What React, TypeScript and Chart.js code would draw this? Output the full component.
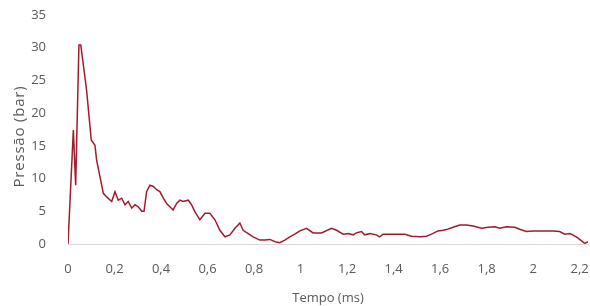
import React, { useEffect, useRef } from "react";
import { Chart, registerables } from "chart.js";

Chart.register(...registerables);

const tempo: number[] = [
  0, 0.023, 0.033, 0.047, 0.055, 0.08, 0.1, 0.116, 0.123, 0.152, 0.166, 0.188, 0.202, 0.216, 0.231, 0.245,
  0.259, 0.274, 0.288, 0.302, 0.317, 0.327, 0.338, 0.352, 0.367, 0.381, 0.395, 0.41, 0.424, 0.438, 0.452,
  0.467, 0.481, 0.495, 0.517, 0.531, 0.546, 0.567, 0.589, 0.61, 0.632, 0.653, 0.675, 0.696, 0.718, 0.739,
  0.753, 0.775, 0.796, 0.825, 0.847, 0.868, 0.89, 0.911, 0.932, 0.954, 0.975, 0.997, 1.026, 1.054, 1.09,
  1.133, 1.155, 1.183, 1.205, 1.226, 1.24, 1.262, 1.276, 1.298, 1.326, 1.34, 1.355, 1.405, 1.448, 1.477,
  1.513, 1.541, 1.563, 1.591, 1.613, 1.627, 1.656, 1.685, 1.713, 1.742, 1.778, 1.806, 1.835, 1.857, 1.885,
  1.921, 1.942, 1.971, 2.0, 2.043, 2.086, 2.114, 2.136, 2.157, 2.171, 2.193, 2.222, 2.236,
];

const pressao: number[] = [
  0, 17.4, 9.0, 30.4, 30.4, 23.5, 15.9, 15.1, 12.8, 7.75, 7.2, 6.5, 8.0, 6.7, 7.0, 6.0,
  6.5, 5.5, 6.0, 5.7, 5.0, 5.0, 8.0, 9.0, 8.8, 8.3, 8.0, 7.0, 6.2, 5.7, 5.2,
  6.2, 6.7, 6.5, 6.7, 6.0, 4.9, 3.7, 4.7, 4.7, 3.7, 2.1, 1.1, 1.4, 2.4, 3.2,
  2.1, 1.6, 1.1, 0.6, 0.6, 0.7, 0.35, 0.2, 0.6, 1.1, 1.5, 2.0, 2.4, 1.7, 1.7,
  2.4, 2.1, 1.5, 1.6, 1.4, 1.7, 1.9, 1.4, 1.6, 1.4, 1.1, 1.5, 1.5, 1.5, 1.2,
  1.1, 1.2, 1.5, 2.0, 2.1, 2.2, 2.55, 2.9, 2.9, 2.75, 2.4, 2.55, 2.65, 2.4, 2.65,
  2.55, 2.25, 1.9, 2.0, 2.0, 2.0, 1.9, 1.5, 1.6, 1.4, 0.9, 0.1, 0.35,
];

const xTitle = "Tempo (ms)";
const yTitle = "Pressão (bar)";
const xMin = 0;
const xMax = 2.236;
const xStep = 0.2;
const yMin = 0;
const yMax = 35;
const yStep = 5;

const fmt = (v: number) => String(Number(v.toFixed(1))).replace(".", ",");

const textColor = "#595959";
const fontFamily = "'Open Sans', sans-serif";

const yTitlePlugin = {
  id: "yTitlePlugin",
  afterDraw(chart: any) {
    const { ctx, chartArea } = chart;
    ctx.save();
    ctx.translate(20, (chartArea.top + chartArea.bottom) / 2 + 7);
    ctx.rotate(-Math.PI / 2);
    ctx.font = `15px ${fontFamily}`;
    try {
      (ctx as any).letterSpacing = "0.8px";
    } catch (e) {}
    ctx.fillStyle = textColor;
    ctx.textAlign = "center";
    ctx.textBaseline = "middle";
    ctx.fillText(yTitle, 0, 0);
    ctx.restore();
  },
};

export default function App() {
  const ref = useRef<HTMLCanvasElement | null>(null);

  useEffect(() => {
    if (!ref.current) return;
    const font = { family: fontFamily, size: 13 };
    const chart = new Chart(ref.current, {
      type: "line",
      data: {
        datasets: [
          {
            data: tempo.map((t, i) => ({ x: t, y: pressao[i] })),
            borderColor: "#A01C2C",
            borderWidth: 1.5,
            pointRadius: 0,
            tension: 0,
            fill: false,
          },
        ],
      },
      options: {
        animation: false,
        responsive: true,
        maintainAspectRatio: false,
        layout: { padding: { left: 0, right: 2, top: 15, bottom: 0 } },
        plugins: { legend: { display: false }, tooltip: { enabled: false } },
        scales: {
          x: {
            type: "linear",
            min: xMin,
            max: xMax,
            grid: { display: false },
            border: { display: true, color: "#D9D9D9", width: 1 },
            ticks: {
              stepSize: xStep,
              includeBounds: false,
              color: textColor,
              font,
              padding: 9,
              maxRotation: 0,
              autoSkip: false,
              callback: (v: any) => fmt(Number(v)),
            },
            title: { display: true, text: xTitle, color: textColor, font, padding: { top: 1, bottom: 0 } },
            afterFit: (s: any) => {
              s.height = 62;
              s.paddingRight = 0;
              s.paddingLeft = 0;
            },
          },
          y: {
            type: "linear",
            min: yMin,
            max: yMax,
            grid: { display: false },
            border: { display: false },
            ticks: {
              stepSize: yStep,
              color: textColor,
              font,
              padding: 14,
              callback: (v: any) => fmt(Number(v)),
            },
            title: { display: false, text: yTitle },
            afterFit: (s: any) => {
              s.width = 68;
              s.paddingTop = 0;
              s.paddingBottom = 0;
            },
          },
        },
      },
      plugins: [yTitlePlugin],
    });
    return () => chart.destroy();
  }, []);

  return (
    <div style={{ position: "fixed", left: 0, top: 0, width: 590, height: 306, background: "#fff" }}>
      <canvas ref={ref} />
    </div>
  );
}
